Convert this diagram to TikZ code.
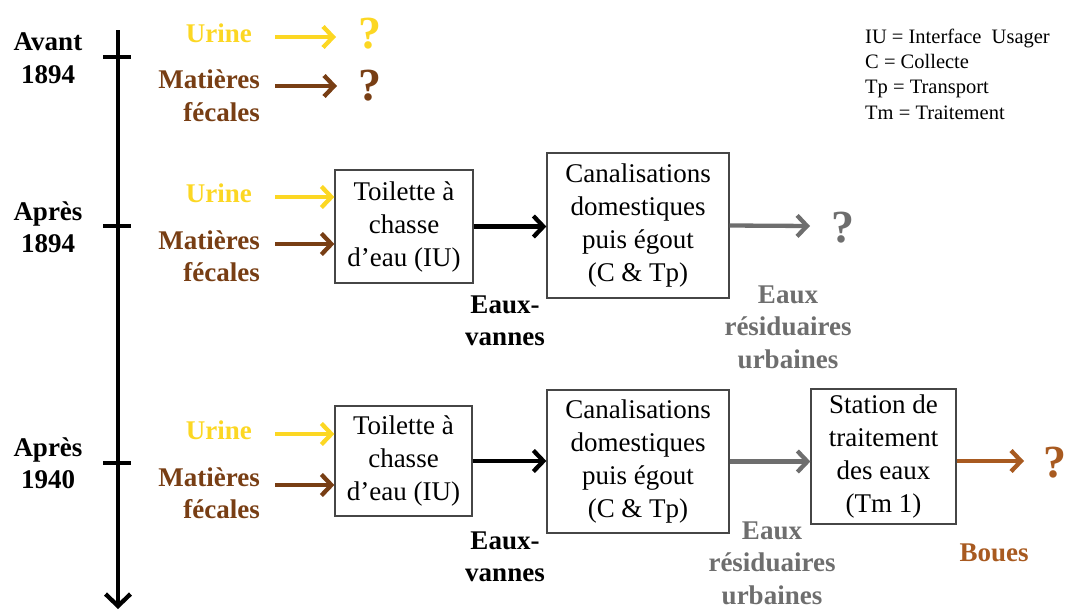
\documentclass[tikz,border=0pt]{standalone}
\usepackage{fontspec}
\setmainfont{Liberation Serif}
\usetikzlibrary{arrows.meta}
\definecolor{urin}{RGB}{252,215,35}
\definecolor{feces}{RGB}{120,62,20}
\definecolor{gris}{RGB}{110,110,110}
\definecolor{boue}{RGB}{168,90,32}
\definecolor{boxline}{RGB}{70,70,70}
\tikzset{
  lbl/.style={font=\fontsize{27}{32.5}\selectfont\bfseries, inner sep=0pt, align=center},
  lblr/.style={font=\fontsize{27}{32.5}\selectfont\bfseries, inner sep=0pt, align=right, anchor=east},
  boxtxt/.style={draw=boxline, line width=1.3pt, font=\fontsize{27}{33}\selectfont, align=center, inner sep=0pt},
  qm/.style={font=\fontsize{46}{46}\selectfont\bfseries, inner sep=0pt},
  flow/.style={line width=4.3pt, -{Straight Barb[length=10pt,width=21pt]}},
  leg/.style={font=\fontsize{20.5}{25.4}\selectfont, inner sep=0pt, align=left, anchor=west}
}
\begin{document}
\begin{tikzpicture}[x=1pt,y=-1pt]
\useasboundingbox (0,0) rectangle (1067,613);
% timeline
\coordinate (tA) at (118,30);
\coordinate (tB) at (118,609);
\draw[line width=4.3pt, -{Straight Barb[length=12pt,width=25pt]}] (tA) -- (tB);
\coordinate (k1a) at (103,57); \coordinate (k1b) at (131,57);
\coordinate (k2a) at (103,226); \coordinate (k2b) at (131,226);
\coordinate (k3a) at (103,463); \coordinate (k3b) at (131,463);
\draw[line width=4.3pt] (k1a) -- (k1b) (k2a) -- (k2b) (k3a) -- (k3b);
\node[lbl] (d1) at (48,58) {Avant\\1894};
\node[lbl] (d2) at (48,227) {Après\\1894};
\node[lbl] (d3) at (48,463) {Après\\1940};

% legend
\node[leg] (legend) at (865,74) {IU = Interface\ \ Usager\\C = Collecte\\Tp = Transport\\Tm = Traitement};

% row 1
\node[lblr, text=urin] (u1) at (252,33) {Urine};
\node[lblr, text=feces] (f1) at (260,96) {Matières\\fécales};
\node[qm, text=urin] (q1) at (370,34) {?};
\node[qm, text=feces] (q1b) at (370,86) {?};
\coordinate (u1s) at (275,37); \coordinate (u1e) at (336,37);
\coordinate (f1s) at (275,86); \coordinate (f1e) at (337,86);
\draw[flow, urin] (u1s) -- (u1e);
\draw[flow, feces] (f1s) -- (f1e);

% row 2
\node[lblr, text=urin] (u2) at (252,193) {Urine};
\node[lblr, text=feces] (f2) at (260,256) {Matières\\fécales};
\node[boxtxt, minimum width=138pt, minimum height=113pt] (b21) at (404,226.5) {Toilette à\\chasse\\d’eau (IU)};
\node[boxtxt, minimum width=182pt, minimum height=145pt] (b22) at (638,225.5) {Canalisations\\domestiques\\puis égout\\(C \& Tp)};
\coordinate (u2s) at (275,197); \coordinate (f2s) at (275,244);
\draw[flow, urin] (u2s) -- (u2s -| b21.west);
\draw[flow, feces] (f2s) -- (f2s -| b21.west);
\draw[flow, black] (b21.east) -- (b21.east -| b22.west);
\node[lbl] (ev2) at (505,321) {Eaux-\\vannes};
\coordinate (g2e) at (810,226);
\draw[flow, gris] (b22.east) -- (g2e);
\node[qm, text=gris] (q2) at (843,228) {?};
\node[lbl, text=gris] (er2) at (788,327) {Eaux\\résiduaires\\urbaines};

% row 3
\node[lblr, text=urin] (u3) at (252,430) {Urine};
\node[lblr, text=feces] (f3) at (260,493) {Matières\\fécales};
\node[boxtxt, minimum width=137pt, minimum height=110pt] (b31) at (403.5,461) {Toilette à\\chasse\\d’eau (IU)};
\node[boxtxt, minimum width=182pt, minimum height=143pt] (b32) at (638,461.5) {Canalisations\\domestiques\\puis égout\\(C \& Tp)};
\node[boxtxt, minimum width=145pt, minimum height=135pt] (b33) at (883.5,456.5) {Station de\\traitement\\des eaux\\(Tm 1)};
\coordinate (u3s) at (275,434); \coordinate (f3s) at (275,485);
\draw[flow, urin] (u3s) -- (u3s -| b31.west);
\draw[flow, feces] (f3s) -- (f3s -| b31.west);
\draw[flow, black] (b31.east) -- (b31.east -| b32.west);
\node[lbl] (ev3) at (505,557) {Eaux-\\vannes};
\draw[flow, gris] (b32.east) -- (b32.east -| b33.west);
\node[lbl, text=gris] (er3) at (772,563) {Eaux\\résiduaires\\urbaines};
\coordinate (a3) at (1024,461);
\draw[flow, boue] (b33.east |- a3) -- (a3);
\node[qm, text=boue] (q3) at (1055,463) {?};
\node[lbl, text=boue] (bo) at (994,553) {Boues};
\end{tikzpicture}
\end{document}
